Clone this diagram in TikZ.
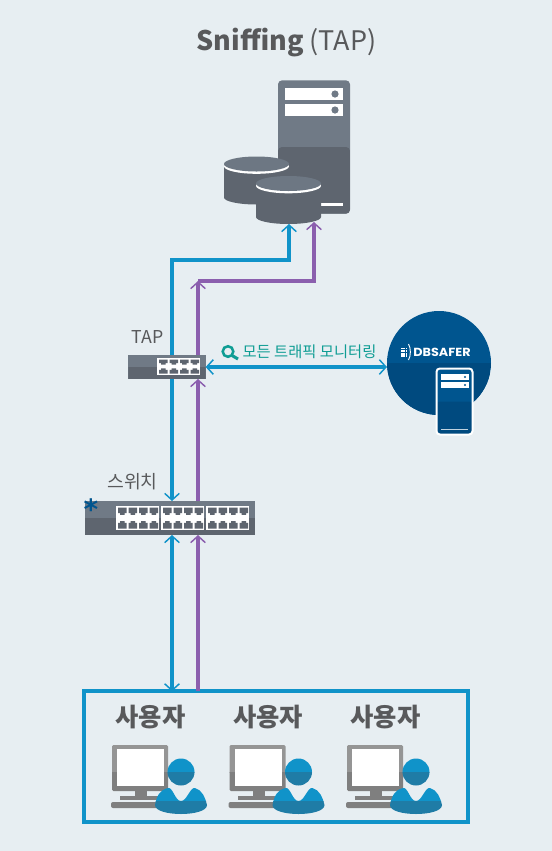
\documentclass[tikz,border=0pt]{standalone}
\usepackage{fontspec}
\usepackage{xcolor}
\usetikzlibrary{arrows.meta, positioning, calc}
\setmainfont{Noto Sans CJK KR}
\newfontfamily\logofont{Poppins}
\newfontfamily\markfont{DejaVu Sans}

\definecolor{pagebg}{HTML}{E7EEF2}
\definecolor{linkblue}{HTML}{1093C9}
\definecolor{linkpurple}{HTML}{8B5FAE}
\definecolor{devlight}{HTML}{707A86}
\definecolor{devdark}{HTML}{5E656F}
\definecolor{safelight}{HTML}{00558F}
\definecolor{safedark}{HTML}{004A7F}
\definecolor{monlight}{HTML}{959595}
\definecolor{mondark}{HTML}{7F7F7F}
\definecolor{userdark}{HTML}{1F7CA6}
\definecolor{textgray}{HTML}{58595B}
\definecolor{textteal}{HTML}{0F9D94}

\tikzset{
  twotone/.style 2 args={rectangle, inner sep=0pt, outer sep=0pt, fill=#1,
    path picture={\fill[#2] (path picture bounding box.west) rectangle (path picture bounding box.south east);}},
  bluelink/.style={draw=linkblue, line width=2.9pt, >={Straight Barb[length=5pt,width=11pt,line width=1.1pt]}},
  purplelink/.style={draw=linkpurple, line width=2.9pt, >={Straight Barb[length=5pt,width=11pt,line width=1.1pt]}},
  devlabel/.style={text=textgray, font=\fontsize{13.7}{14}\selectfont, inner sep=0pt},
  userlabel/.style={text=textgray, font=\fontsize{19}{19}\bfseries\selectfont, inner sep=0pt},
}

% white panel with four ports, #1 #2 = top left corner, #3 = height
\newcommand{\portpanel}[3]{
  \fill[white] (#1,#2) rectangle ++(43.4,#3);
  \foreach \p in {0,1,2,3} {
    \fill[devdark] ($(#1,#2)+(2+10.5*\p,1.5)$) -- ++(8.7,0) -- ++(0,0.3*#3-1.5) -- ++(-2,0) -- ++(0,1.6) -- ++(-4.7,0) -- ++(0,-1.6) -- ++(-2,0) -- cycle;
    \fill[devdark] ($(#1,#2)+(2+10.5*\p,#3-1.5)$) -- ++(8.7,0) -- ++(0,-0.3*#3+1.5) -- ++(-2,0) -- ++(0,-1.6) -- ++(-4.7,0) -- ++(0,1.6) -- ++(-2,0) -- cycle;
  }
}

\begin{document}
\begin{tikzpicture}[x=0.75pt,y=-0.75pt]
  \useasboundingbox[fill=pagebg] (0,0) rectangle (552,851);

  % Title
  \node[text=textgray, font=\fontsize{20.2}{21}\selectfont, inner sep=0pt] (title) at (286.5,43) {\textbf{Sniffing} (TAP)};

  % Server
  \node[twotone={devlight}{devdark}, rounded corners=3pt, minimum width=54pt, minimum height=100pt] (server) at (314,147) {};
  \fill[white] (285,88) rectangle (343,100);
  \fill[white] (285,103.5) rectangle (343,116);
  \fill[devlight] (335,94) circle (3.6);
  \fill[devlight] (335,110) circle (3.6);
  \fill[white] (320,203) rectangle (343,205.5);

  % Database cylinders
  \foreach \cx/\ty in {256.5/164.5, 288.5/184} {
    \fill[devdark] (\cx-32.5,\ty) -- (\cx-32.5,\ty+33) arc[start angle=180,end angle=0,x radius=32.5,y radius=7] -- (\cx+32.5,\ty) -- cycle;
    \fill[white] (\cx,\ty+1.8) ellipse[x radius=32.5,y radius=7.5];
    \fill[devlight!85!devdark] (\cx,\ty-0.5) ellipse[x radius=32.5,y radius=7.5];
  }
  \node[inner sep=0pt, minimum width=48pt, minimum height=31pt] (db) at (288.5,203.5) {};

  % TAP
  \node[twotone={devlight}{devdark}, minimum width=58pt, minimum height=18pt] (tap) at (167,367) {};
  \portpanel{157}{358}{17}
  \node[devlabel, font=\fontsize{13.3}{14}\selectfont] (taplabel) at (147.5,337) {TAP};

  % Switch
  \node[twotone={devlight}{devdark}, minimum width=127.5pt, minimum height=25.5pt] (switch) at (170,518) {};
  \portpanel{116}{506}{24}
  \portpanel{161}{506}{24}
  \portpanel{206}{506}{24}
  \node[devlabel] (switchlabel) at (132.5,482) {스위치};
  \node[text=safelight, font=\markfont\fontsize{21}{21}\bfseries\selectfont, inner sep=0pt] (mark) at (91,509.5) {*};

  % DBSAFER
  \node[twotone={safelight}{safedark}, circle, minimum size=78pt] (dbsafer) at (439,363) {};
  \foreach \i in {0,1,2} \foreach \j in {0,1,2,3}
    \fill[white] (401+2.3*\i,347.5+2.6*\j) rectangle ++(1.6,1.8);
  \draw[white, line width=0.7pt] (408.5,344) .. controls (411,348) and (411,356) .. (408.5,360);
  \node[text=white, font=\logofont\fontsize{8.8}{9}\bfseries\selectfont, inner sep=0pt, xscale=1.09] (dbsaferlabel) at (442,352.5) {DBSAFER};
  \node[twotone={safelight}{safedark}, draw=white, line width=1.5pt, rounded corners=2.5pt, minimum width=27pt, minimum height=49.5pt] (safebox) at (454.5,401.5) {};
  \fill[white] (441,374) rectangle (469,380);
  \fill[white] (441,382) rectangle (469,388);
  \fill[safelight] (465,377) circle (1.2);
  \fill[safelight] (465,385) circle (1.2);
  \fill[white!75!safedark] (441,428.5) rectangle (468,430);

  % Users box
  \node[draw=linkblue, line width=3pt, inner sep=0pt, outer sep=0pt, minimum width=288pt, minimum height=98pt] (users) at (276,756.75) {};
  \foreach \ux/\lx [count=\n] in {0/150.5, 117.5/268, 235/385.5} {
    \node[userlabel] (userlabel\n) at (\lx,717) {사용자};
    \begin{scope}[shift={(\ux,0)}]
      % Monitor
      \begin{scope}
        \clip (100,740) rectangle (175,772);
        \fill[monlight, rounded corners=1pt] (112,745) rectangle (168,791);
      \end{scope}
      \begin{scope}
        \clip (100,772) rectangle (175,795);
        \fill[mondark, rounded corners=1pt] (112,745) rectangle (168,791);
      \end{scope}
      \fill[white] (117,749) rectangle (164,786);
      \fill[mondark] (135,791) rectangle (147,797);
      \fill[mondark] (120,796) rectangle (162,799.5);
      \fill[mondark, rounded corners=1.5pt] (111,802) rectangle (162,808);
      % Person
      \begin{scope}
        \clip (160,755) rectangle (200,772);
        \fill[linkblue] (181,772) circle (13.5);
      \end{scope}
      \begin{scope}
        \clip (160,772) rectangle (200,790);
        \fill[userdark] (181,772) circle (13.5);
      \end{scope}
      \begin{scope}
        \clip (150,780) rectangle (212,801);
        \fill[linkblue] (155,805) .. controls (157,795) and (160,790) .. (168,788) .. controls (173,787) and (175,801) .. (181,801) .. controls (187,801) and (190,787) .. (195,788) .. controls (202,790) and (205,797) .. (207,805) .. controls (207,817) and (155,817) .. (155,805) -- cycle;
      \end{scope}
      \begin{scope}
        \clip (150,801) rectangle (212,820);
        \fill[userdark] (155,805) .. controls (157,795) and (160,790) .. (168,788) .. controls (173,787) and (175,801) .. (181,801) .. controls (187,801) and (190,787) .. (195,788) .. controls (202,790) and (205,797) .. (207,805) .. controls (207,817) and (155,817) .. (155,805) -- cycle;
      \end{scope}
    \end{scope}
  }

  % Link columns and bends
  \coordinate (bluecol) at (172,0);
  \coordinate (purplecol) at (198,0);
  \coordinate (bluebend) at (172,260);
  \coordinate (purplebend) at (198,281);
  \coordinate (dbblue) at (289,224);
  \coordinate (dbpurple) at (314,222);

  % Blue links
  \draw[bluelink,->] (tap.north -| bluecol) -- (bluebend) -| (dbblue);
  \draw[bluelink,->] (tap.south -| bluecol) -- (switch.north -| bluecol);
  \draw[bluelink,<->] (switch.south -| bluecol) -- (users.north -| bluecol);
  \draw[bluelink,<->] (tap.east) -- (tap.east -| dbsafer.west);

  % Purple links
  \draw[purplelink,->] (tap.north -| purplecol) -- (purplebend);
  \draw[purplelink,->] (purplebend) -| (dbpurple);
  \draw[purplelink,->] (switch.north -| purplecol) -- (tap.south -| purplecol);
  \draw[purplelink,->] (users.north -| purplecol) -- (switch.south -| purplecol);

  % Monitoring label
  \draw[textteal, line width=1.9pt] (228,351.5) circle (5.3);
  \draw[textteal, line width=2.3pt] (232,355.5) -- (238,359);
  \node[text=textteal, font=\fontsize{11.5}{12}\selectfont, inner sep=0pt] (monitorlabel) at (309.5,352) {모든 트래픽 모니터링};
\end{tikzpicture}
\end{document}
